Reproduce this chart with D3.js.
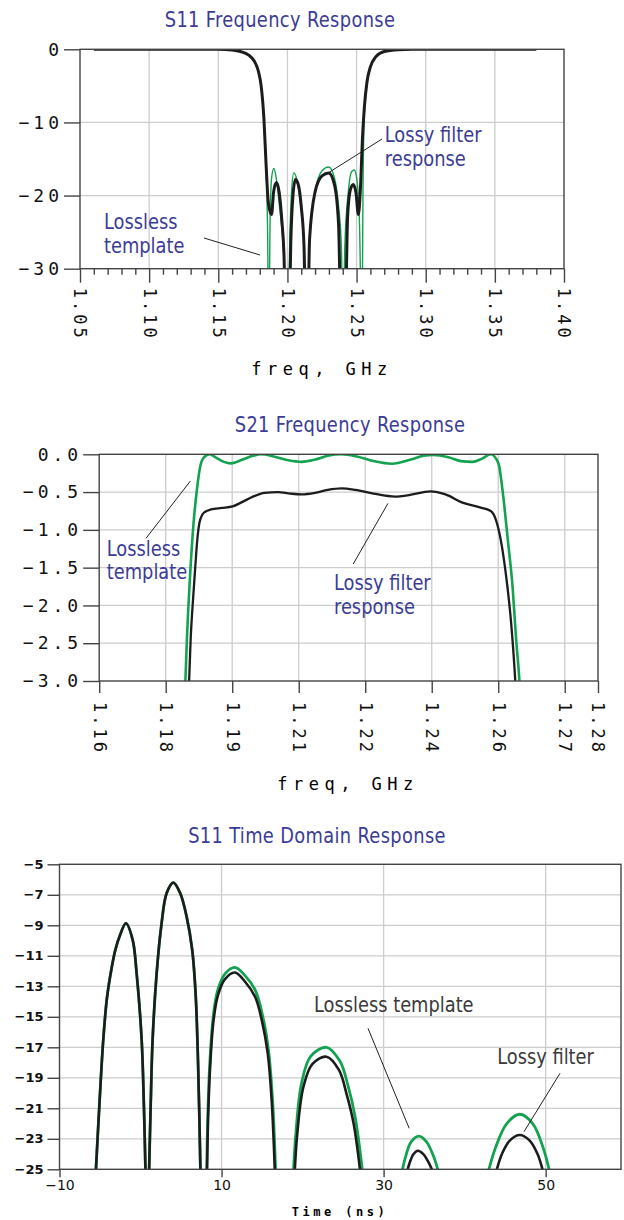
<!DOCTYPE html>
<html>
<head>
<meta charset="utf-8">
<script src="https://cdn.jsdelivr.net/npm/d3@7"></script>
<style>
  body { margin: 0; background: #fff; }
  svg { display: block; }
  .title, .note { font-family: 'Liberation Sans Narrow', 'DejaVu Sans Condensed', sans-serif; }
  .title { fill: #3b3c96; font-size: 22px; letter-spacing: 0.4px; }
  .note { fill: #3b3c96; font-size: 22px; }
  .note.dark { fill: #3a3a3a; }
  .mono text { font-family: 'DejaVu Sans Mono', monospace; fill: #111; }
</style>
</head>
<body>
<svg id="chart" width="624" height="1220"></svg>
<script>
'use strict'

// ---- S11 frequency response (dB vs GHz)
const s11Ticks = [1.05, 1.10, 1.15, 1.20, 1.25, 1.30, 1.35, 1.40]
const s11MinorTicks = [1.06, 1.07, 1.08, 1.09, 1.11, 1.12, 1.13, 1.14, 1.16, 1.17, 1.18, 1.19,
  1.21, 1.22, 1.23, 1.24, 1.26, 1.27, 1.28, 1.29, 1.31, 1.32, 1.33, 1.34, 1.36, 1.37, 1.38, 1.39]
const s11YTicks = [0, -10, -20, -30]

const s11LosslessFreq = [1.0600, 1.1500, 1.1600, 1.1660, 1.1720, 1.1760, 1.1790, 1.1810, 1.1830, 1.1845,
  1.1856, 1.1866, 1.1874, 1.1886, 1.1902, 1.1918, 1.1940, 1.1970, 1.2000, 1.2020, 1.2030, 1.2046,
  1.2065, 1.2090, 1.2120, 1.2141, 1.2160, 1.2200, 1.2250, 1.2299, 1.2340, 1.2370, 1.2390, 1.2402,
  1.2415, 1.2440, 1.2465, 1.2483, 1.2500, 1.2520, 1.2539, 1.2546, 1.2554, 1.2565, 1.2580, 1.2600,
  1.2640, 1.2700, 1.2800, 1.2900, 1.3800]
const s11LosslessDb = [0, 0, -0.1, -0.3, -0.8, -1.6, -3.0, -5.0, -9.5, -15.0,
  -24.0, -40, -24.0, -17.5, -16.3, -17.5, -21.0, -27.0, -40, -24.0, -19.5, -16.9,
  -17.6, -20.5, -26.5, -40, -26.5, -19.5, -16.6, -16.1, -17.6, -21.5, -27.0, -40,
  -27.0, -19.5, -16.7, -16.5, -17.5, -23.0, -40, -20.0, -10.0, -6.5, -4.2, -2.4,
  -1.0, -0.3, -0.05, 0, 0]

const s11LossyFreq = [1.0600, 1.1500, 1.1600, 1.1660, 1.1720, 1.1760, 1.1790, 1.1810, 1.1830, 1.1845,
  1.1862, 1.1885, 1.1900, 1.1920, 1.1940, 1.1960, 1.1975, 1.1990, 1.2010, 1.2025, 1.2040, 1.2058,
  1.2080, 1.2100, 1.2120, 1.2135, 1.2145, 1.2160, 1.2200, 1.2250, 1.2299, 1.2340, 1.2370, 1.2390,
  1.2415, 1.2435, 1.2455, 1.2476, 1.2495, 1.2513, 1.2528, 1.2543, 1.2556, 1.2575, 1.2600, 1.2640,
  1.2700, 1.2800, 1.2900, 1.3800]
const s11LossyDb = [0, 0, -0.1, -0.3, -0.8, -1.6, -3.0, -5.0, -9.5, -15.5,
  -21.0, -22.6, -19.5, -18.2, -19.5, -23.5, -28.0, -40, -40, -26.0, -20.0, -17.8,
  -18.6, -21.5, -27.0, -40, -40, -26.0, -19.5, -17.3, -16.9, -18.5, -24.0, -40,
  -40, -23.0, -19.2, -18.5, -19.5, -22.6, -19.0, -12.0, -8.0, -4.5, -2.4, -1.0,
  -0.3, -0.05, 0, 0]

// ---- S21 frequency response (dB vs GHz)
const s21Ticks = [1.16, 1.176, 1.192, 1.208, 1.224, 1.24, 1.256, 1.272, 1.28]
const s21TickLabels = ['1.16', '1.18', '1.19', '1.21', '1.22', '1.24', '1.26', '1.27', '1.28']
const s21YTicks = [0, -0.5, -1.0, -1.5, -2.0, -2.5, -3.0]

const s21LosslessFreq = [1.1806, 1.1811, 1.1819, 1.1827, 1.1835, 1.1843, 1.1852, 1.1866, 1.1880, 1.1900,
  1.1917, 1.1945, 1.1970, 1.1990, 1.2020, 1.2055, 1.2087, 1.2120, 1.2150, 1.2183, 1.2220, 1.2260,
  1.2304, 1.2350, 1.2380, 1.2405, 1.2440, 1.2470, 1.2498, 1.2520, 1.2542, 1.2555, 1.2562, 1.2570,
  1.2583, 1.2595, 1.2603, 1.2611, 1.2613]
const s21LosslessDb = [-3.2, -2.45, -1.57, -0.91, -0.47, -0.16, -0.04, 0.0, -0.04, -0.10,
  -0.12, -0.07, -0.02, 0.0, -0.03, -0.08, -0.10, -0.07, -0.02, 0.0, -0.03, -0.09,
  -0.125, -0.07, -0.02, -0.01, -0.04, -0.09, -0.10, -0.06, 0.0, -0.06, -0.15, -0.46,
  -1.13, -1.79, -2.45, -3.0, -3.2]

const s21LossyFreq = [1.1815, 1.1820, 1.1826, 1.1831, 1.1836, 1.1841, 1.1848, 1.1855, 1.1869, 1.1895,
  1.1921, 1.1941, 1.1970, 1.1998, 1.2030, 1.2060, 1.2087, 1.2119, 1.2150, 1.2183, 1.2216, 1.2260,
  1.2312, 1.2345, 1.2397, 1.2433, 1.2474, 1.2514, 1.2542, 1.2554, 1.2566, 1.2578, 1.2591, 1.2601,
  1.2603]
const s21LossyDb = [-3.2, -2.45, -1.9, -1.5, -1.13, -0.91, -0.80, -0.76, -0.73, -0.71,
  -0.69, -0.64, -0.56, -0.51, -0.50, -0.52, -0.53, -0.51, -0.47, -0.45, -0.47, -0.52,
  -0.56, -0.54, -0.49, -0.53, -0.64, -0.70, -0.75, -0.86, -1.13, -1.57, -2.23, -3.0,
  -3.2]

// ---- S11 time domain response (dB vs ns), null splits the lobes
const tdTicks = [-10, 10, 30, 50]
const tdYTicks = [-5, -7, -9, -11, -13, -15, -17, -19, -21, -23, -25]

const tdLosslessTime = [-5.55, -5.09, -4.60, -4.15, -3.60, -3.10, -2.50, -1.80, -0.97, -0.48, 0.14, 0.42, 0.63, 0.8,
  1.04, 1.25, 1.49, 1.99, 2.60, 3.22, 4.05, 4.90, 5.69, 6.38, 6.80, 7.10, 7.41, 7.8,
  8.15, 8.30, 8.55, 8.97, 9.50, 10.4, 11.65, 12.9, 14.2, 15.1, 15.8, 16.3, 16.7, 17.5,
  18.84, 19.17, 19.87, 21.0, 22.95, 24.6, 25.6, 26.5, 27.47, 30.0,
  32.14, 32.7, 33.4, 34.36, 35.3, 36.2, 36.93, 40.0,
  42.75, 43.8, 45.2, 46.8, 48.4, 49.7, 50.64]
const tdLosslessDb = [-25.5, -20.9, -16.52, -13.8, -11.9, -10.6, -9.6, -8.87, -9.96, -12.15, -16.52, -20.9, -25.5, null,
  -25.5, -20.9, -16.52, -12.15, -8.87, -6.9, -6.2, -6.9, -8.43, -10.62, -13.5, -18.0, -25.5, null,
  -25.5, -21.5, -18.0, -15.0, -13.3, -12.2, -11.76, -12.3, -13.3, -15.0, -17.2, -20.5, -25.5, null,
  -25.5, -22.64, -19.36, -17.6, -17.0, -17.9, -19.5, -21.6, -25.5, null,
  -25.5, -24.2, -23.2, -22.82, -23.2, -24.2, -25.5, null,
  -25.5, -23.6, -22.0, -21.39, -22.0, -23.6, -25.5]

const tdLossyTime = [-5.55, -5.09, -4.60, -4.15, -3.60, -3.10, -2.50, -1.80, -0.97, -0.48, 0.14, 0.42, 0.63, 0.8,
  1.04, 1.25, 1.49, 1.99, 2.60, 3.22, 4.05, 4.90, 5.69, 6.38, 6.80, 7.10, 7.41, 7.8,
  8.20, 8.35, 8.60, 9.00, 9.55, 10.4, 11.65, 12.9, 14.15, 15.0, 15.7, 16.2, 16.6, 17.5,
  19.0, 19.35, 20.1, 21.2, 22.95, 24.5, 25.4, 26.3, 27.19, 30.0,
  32.74, 33.2, 33.7, 34.22, 34.9, 35.6, 36.34, 40.0,
  43.74, 44.6, 45.6, 46.8, 48.0, 49.0, 49.85]
const tdLossyDb = [-25.5, -20.9, -16.52, -13.8, -11.9, -10.6, -9.6, -8.87, -9.96, -12.15, -16.52, -20.9, -25.5, null,
  -25.5, -20.9, -16.52, -12.15, -8.87, -6.9, -6.2, -6.9, -8.43, -10.62, -13.5, -18.0, -25.5, null,
  -25.5, -21.5, -18.2, -15.3, -13.6, -12.55, -12.1, -12.7, -13.7, -15.3, -17.4, -20.6, -25.5, null,
  -25.5, -22.64, -19.6, -18.1, -17.62, -18.5, -20.0, -22.0, -25.5, null,
  -25.5, -24.6, -24.0, -23.78, -24.0, -24.6, -25.5, null,
  -25.5, -24.0, -23.1, -22.75, -23.1, -24.0, -25.5]

const green = '#13a24f'
const black = '#1c1c1c'
const gridColor = '#cdcdcd'
const minus = (v, digits) => (v < 0 ? '\u2212' : '') + Math.abs(v).toFixed(digits)

const svg = d3.select('#chart')

const zip = (xs, ys) => xs.map((x, i) => ({ x, y: ys[i] }))

// the reference face is a condensed one, squeeze the fallback a bit
const narrow = (t) => {
  const w = t.node().getComputedTextLength()
  t.attr('textLength', w * 0.9).attr('lengthAdjust', 'spacingAndGlyphs')
  return t
}

const panel = (id, x, y) => {
  const g = svg.append('g')
  const [x0, x1] = x.range()
  const [y0, y1] = y.range()
  g.append('clipPath').attr('id', id)
    .append('rect').attr('x', x0).attr('y', y1).attr('width', x1 - x0).attr('height', y0 - y1)
  return g
}

const gridLines = (g, x, y, xv, yv) => {
  g.append('g').selectAll('line').data(xv).join('line')
    .attr('x1', (d) => x(d)).attr('x2', (d) => x(d))
    .attr('y1', y.range()[0]).attr('y2', y.range()[1])
    .attr('stroke', gridColor).attr('stroke-width', 1.3)
  g.append('g').selectAll('line').data(yv).join('line')
    .attr('y1', (d) => y(d)).attr('y2', (d) => y(d))
    .attr('x1', x.range()[0]).attr('x2', x.range()[1])
    .attr('stroke', gridColor).attr('stroke-width', 1.3)
}

const drawLine = (g, id, x, y, pts, color, width, curve) => {
  const line = d3.line()
    .defined((d) => d.y !== null)
    .x((d) => x(d.x)).y((d) => y(d.y))
    .curve(curve || d3.curveMonotoneX)
  g.append('path').datum(pts)
    .attr('clip-path', `url(#${id})`)
    .attr('d', line)
    .attr('fill', 'none').attr('stroke', color).attr('stroke-width', width)
    .attr('stroke-linejoin', 'round')
}

const frame = (g, x, y) => {
  g.append('rect')
    .attr('x', x.range()[0]).attr('y', y.range()[1])
    .attr('width', x.range()[1] - x.range()[0]).attr('height', y.range()[0] - y.range()[1])
    .attr('fill', 'none').attr('stroke', '#444').attr('stroke-width', 1.4)
}

const styleAxis = (a) => {
  a.select('.domain').remove()
  a.selectAll('.tick line').attr('stroke', '#444').attr('stroke-width', 1.4)
}

const rotateLabels = (a, offset) => {
  a.selectAll('.tick text')
    .attr('transform', 'rotate(90)')
    .attr('x', offset).attr('y', 0).attr('dy', '0.36em')
    .attr('text-anchor', 'start')
    .style('font-size', '17px').style('letter-spacing', '3px')
}

const note = (g, lines, x, y, cls) => {
  lines.forEach((s, i) => {
    narrow(g.append('text').attr('class', cls || 'note').attr('x', x).attr('y', y + i * 23.5).text(s))
  })
}

const title = (g, s, x, y) => {
  narrow(g.append('text').attr('class', 'title').attr('x', x).attr('y', y)
    .attr('text-anchor', 'middle').text(s))
}

const leader = (g, ax, ay, bx, by) => {
  g.append('line').attr('x1', ax).attr('y1', ay).attr('x2', bx).attr('y2', by)
    .attr('stroke', '#222').attr('stroke-width', 1)
}

// ---------- panel 1
{
  const x = d3.scaleLinear().domain([1.05, 1.40]).range([80, 564])
  const y = d3.scaleLinear().domain([-30, 0]).range([268.7, 49.3])
  const g = panel('clip1', x, y)
  gridLines(g, x, y, s11Ticks.slice(1, -1), s11YTicks.slice(1, -1))
  drawLine(g, 'clip1', x, y, zip(s11LosslessFreq, s11LosslessDb), green, 1.4)
  drawLine(g, 'clip1', x, y, zip(s11LossyFreq, s11LossyDb), black, 3)
  frame(g, x, y)

  g.append('g').attr('class', 'mono').attr('transform', `translate(0,${y.range()[0]})`)
    .call(d3.axisBottom(x).tickValues(s11MinorTicks).tickSize(6).tickFormat(''))
    .call(styleAxis)
  g.append('g').attr('class', 'mono').attr('transform', `translate(0,${y.range()[0]})`)
    .call(d3.axisBottom(x).tickValues(s11Ticks).tickSize(14).tickFormat(d3.format('.2f')))
    .call(styleAxis).call((a) => rotateLabels(a, 19))
  g.append('g').attr('class', 'mono').attr('transform', `translate(${x.range()[0]},0)`)
    .call(d3.axisLeft(y).tickValues(s11YTicks).tickSize(16).tickPadding(1).tickFormat((d) => minus(d, 0)))
    .call(styleAxis)
    .call((a) => a.selectAll('.tick text').style('font-size', '18px').style('letter-spacing', '4px'))

  title(g, 'S11 Frequency Response', 280, 27)
  g.append('text').attr('class', 'mono').attr('x', 322).attr('y', 375).attr('text-anchor', 'middle')
    .style('font-family', "'DejaVu Sans Mono', monospace").style('font-size', '17px')
    .style('letter-spacing', '5.5px').text('freq, GHz')
  note(g, ['Lossy filter', 'response'], 384.8, 142)
  leader(g, 382, 139, 328, 173)
  note(g, ['Lossless', 'template'], 104, 229)
  leader(g, 204, 238, 260, 255)
}

// ---------- panel 2
{
  const x = d3.scaleLinear().domain([1.16, 1.28]).range([99.2, 598])
  const y = d3.scaleLinear().domain([-3, 0]).range([681, 454.3])
  const g = panel('clip2', x, y)
  gridLines(g, x, y, s21Ticks.slice(1, -1), s21YTicks.slice(1, -1))
  drawLine(g, 'clip2', x, y, zip(s21LosslessFreq, s21LosslessDb), green, 2.6)
  drawLine(g, 'clip2', x, y, zip(s21LossyFreq, s21LossyDb), black, 2.3)
  frame(g, x, y)

  g.append('g').attr('class', 'mono').attr('transform', `translate(0,${y.range()[0]})`)
    .call(d3.axisBottom(x).tickValues(s21Ticks).tickSize(12)
      .tickFormat((d, i) => s21TickLabels[i]))
    .call(styleAxis).call((a) => rotateLabels(a, 21))
  g.append('g').attr('class', 'mono').attr('transform', `translate(${x.range()[0]},0)`)
    .call(d3.axisLeft(y).tickValues(s21YTicks).tickSize(16).tickPadding(1).tickFormat((d) => minus(d, 1)))
    .call(styleAxis)
    .call((a) => a.selectAll('.tick text').style('font-size', '18px').style('letter-spacing', '4px'))

  title(g, 'S21 Frequency Response', 350, 432)
  g.append('text').attr('class', 'mono').attr('x', 348).attr('y', 790).attr('text-anchor', 'middle')
    .style('font-family', "'DejaVu Sans Mono', monospace").style('font-size', '17px')
    .style('letter-spacing', '5.5px').text('freq, GHz')
  note(g, ['Lossless', 'template'], 106.8, 555.7)
  leader(g, 146, 538.3, 190.4, 481)
  note(g, ['Lossy filter', 'response'], 334, 590)
  leader(g, 353.2, 564, 388, 503.3)
}

// ---------- panel 3
{
  const x = d3.scaleLinear().domain([-10, 59.3]).range([59.5, 621])
  const y = d3.scaleLinear().domain([-25, -5]).range([1169.3, 864.3])
  const g = panel('clip3', x, y)
  gridLines(g, x, y, tdTicks.slice(1), tdYTicks.slice(1, -1))
  drawLine(g, 'clip3', x, y, zip(tdLosslessTime, tdLosslessDb), green, 2.8, d3.curveCatmullRom)
  drawLine(g, 'clip3', x, y, zip(tdLossyTime, tdLossyDb), black, 2.6, d3.curveCatmullRom)
  frame(g, x, y)

  g.append('g').attr('transform', `translate(0,${y.range()[0]})`)
    .call(d3.axisBottom(x).tickValues(tdTicks).tickSize(8).tickPadding(3).tickFormat((d) => minus(d, 0)))
    .call(styleAxis)
    .call((a) => a.selectAll('.tick text').style('font-family', "'DejaVu Sans', sans-serif")
      .style('font-size', '14px').style('fill', '#111'))
  g.append('g').attr('transform', `translate(${x.range()[0]},0)`)
    .call(d3.axisLeft(y).tickValues(tdYTicks).tickSize(12).tickPadding(4).tickFormat((d) => minus(d, 0)))
    .call(styleAxis)
    .call((a) => a.selectAll('.tick text').style('font-family', "'DejaVu Sans', sans-serif")
      .style('font-size', '13px').style('font-weight', 'bold').style('fill', '#111'))

  title(g, 'S11 Time Domain Response', 317, 843)
  g.append('text').attr('x', 340).attr('y', 1216).attr('text-anchor', 'middle')
    .style('font-family', "'DejaVu Sans Mono', monospace").style('font-size', '12px')
    .style('font-weight', 'bold').style('letter-spacing', '3.5px').text('Time (ns)')
  note(g, ['Lossless template'], 314, 1011.7, 'note dark')
  leader(g, 368, 1028.3, 409.2, 1128.3)
  note(g, ['Lossy filter'], 497.2, 1064.3, 'note dark')
  leader(g, 560, 1073.3, 524, 1131.7)
}
</script>
</body>
</html>
